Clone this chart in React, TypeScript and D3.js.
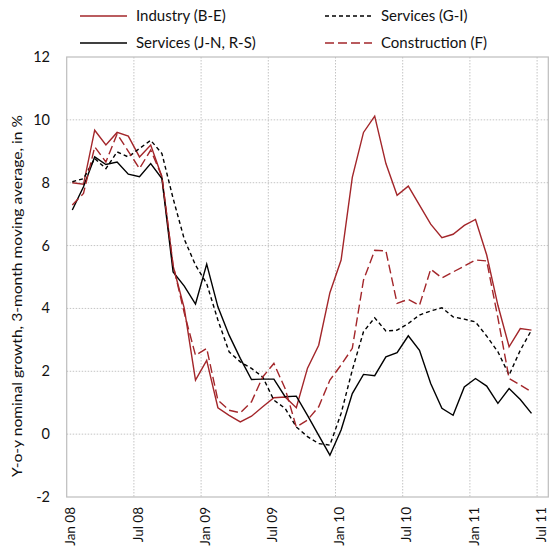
import React from "react";
import * as d3 from "d3";

const monthNames = ["Jan","Feb","Mar","Apr","May","Jun","Jul","Aug","Sep","Oct","Nov","Dec"];
const years = ["08","09","10","11"];
// categories Jan 08 .. Jul 11
const categories: string[] = [];
years.forEach((y) => monthNames.forEach((m) => categories.push(`${m} ${y}`)));
const axisCategories = categories.slice(0, 43);
const tickLabels = ["Jan 08","Jul 08","Jan 09","Jul 09","Jan 10","Jul 10","Jan 11","Jul 11"];
const yTicks = [-2, 0, 2, 4, 6, 8, 10, 12];

const industry = [8.0, 7.95, 9.67, 9.2, 9.6, 9.48, 8.82, 9.2, 8.19, 5.35, 4.0, 1.72, 2.35, 0.84, 0.6, 0.39, 0.57, 0.87, 1.16, 1.18, 0.84, 2.1, 2.83, 4.5, 5.54, 8.17, 9.6, 10.12, 8.61, 7.6, 7.89, 7.29, 6.68, 6.25, 6.36, 6.64, 6.83, 5.7, 4.1, 2.78, 3.36, 3.31];
const servicesGI = [8.03, 8.13, 8.77, 8.45, 8.98, 8.82, 9.09, 9.35, 8.93, 7.5, 6.2, 5.38, 4.79, 3.63, 2.62, 2.3, 2.09, 1.82, 1.08, 0.82, 0.23, -0.08, -0.3, -0.35, 0.66, 2.04, 3.26, 3.7, 3.28, 3.31, 3.52, 3.79, 3.92, 4.02, 3.73, 3.66, 3.57, 3.12, 2.62, 1.88, 2.67, 3.31];
const servicesJN = [7.13, 7.87, 8.82, 8.58, 8.66, 8.27, 8.19, 8.61, 8.13, 5.16, 4.71, 4.14, 5.41, 4.05, 3.15, 2.41, 1.74, 1.75, 1.75, 1.19, 1.21, 0.6, -0.04, -0.67, 0.13, 1.29, 1.9, 1.86, 2.46, 2.59, 3.13, 2.67, 1.61, 0.82, 0.6, 1.5, 1.77, 1.53, 0.98, 1.45, 1.1, 0.66];
const construction = [7.29, 7.66, 9.14, 8.66, 9.55, 9.0, 8.45, 9.04, 8.2, 5.38, 3.85, 2.51, 2.73, 1.08, 0.76, 0.68, 1.03, 1.82, 2.25, 1.45, 0.23, 0.45, 0.87, 1.72, 2.2, 2.73, 4.9, 5.85, 5.83, 4.16, 4.29, 4.1, 5.25, 4.97, 5.16, 5.35, 5.54, 5.51, 3.7, 1.77, 1.56, 1.35];

const RED = "#a3262a";
const FONT = "Lato, 'Open Sans', sans-serif";

const series = [
  { name: "Industry (B-E)", values: industry, color: RED, dash: "none" },
  { name: "Services (G-I)", values: servicesGI, color: "#000", dash: "4,3" },
  { name: "Services (J-N, R-S)", values: servicesJN, color: "#000", dash: "none" },
  { name: "Construction (F)", values: construction, color: RED, dash: "9,4" },
];

export default function App() {
  const left = 66.7, right = 548.3, top = 57, bottom = 497;
  const x = d3.scaleBand<string>().domain(axisCategories).range([left, right]).padding(0);
  const y = d3.scaleLinear().domain([-2, 12]).range([bottom, top]);
  const bw = x.bandwidth();
  const line = d3
    .line<number>()
    .x((_, i) => (x(categories[i]) as number) + bw / 2)
    .y((d) => y(d));

  const vGrid = axisCategories.filter((c) => c.startsWith("Jan") || c.startsWith("Jul")).slice(1);

  const legend = [
    { s: series[0], lx: 80, ty: 16 },
    { s: series[1], lx: 325, ty: 16 },
    { s: series[2], lx: 80, ty: 43 },
    { s: series[3], lx: 325, ty: 43 },
  ];

  return (
    <svg width={549} height={549} style={{ position: "absolute", left: 0, top: 0, background: "#fff" }} fontFamily={FONT}>
      <rect x={0} y={0} width={549} height={549} fill="#fff" />
      {/* grid */}
      {yTicks.slice(1, -1).map((t) => (
        <line key={"h" + t} x1={left} x2={right} y1={y(t)} y2={y(t)} stroke="#c4c4c4" strokeWidth={1} strokeDasharray="1.5,1.5" />
      ))}
      {vGrid.map((c) => (
        <line key={"v" + c} x1={x(c) as number} x2={x(c) as number} y1={top} y2={bottom} stroke="#c4c4c4" strokeWidth={1} strokeDasharray="1.5,1.5" />
      ))}
      <rect x={left} y={top} width={right - left} height={bottom - top} fill="none" stroke="#bdbdbd" strokeWidth={1.2} />
      {/* y ticks */}
      {yTicks.map((t) => (
        <text key={"yt" + t} x={50} y={y(t) + 5} textAnchor="end" fontSize={14.5} fill="#111">
          {t}
        </text>
      ))}
      {/* x tick labels */}
      {tickLabels.map((lab) => {
        const cx = (x(lab) as number) + bw / 2;
        return (
          <text key={"xt" + lab} transform={`translate(${cx + 3},507) rotate(-90)`} textAnchor="end" fontSize={13.5} fill="#111">
            {lab}
          </text>
        );
      })}
      {/* y title */}
      <text
        transform={`translate(22,296) rotate(-90)`}
        textAnchor="middle"
        fontSize={13.5}
        fill="#111"
        textLength={362}
        lengthAdjust="spacingAndGlyphs"
      >
        Y-o-y nominal growth, 3-month moving average, in %
      </text>
      {/* lines */}
      {series.map((s) => (
        <path key={s.name} d={line(s.values) || ""} fill="none" stroke={s.color} strokeWidth={1.4} strokeDasharray={s.dash} strokeLinejoin="miter" />
      ))}
      {/* legend */}
      {legend.map(({ s, lx, ty }) => (
        <g key={"lg" + s.name}>
          <line x1={lx} x2={lx + 47} y1={ty} y2={ty} stroke={s.color} strokeWidth={1.4} strokeDasharray={s.dash} />
          <text x={lx + 56} y={ty + 5} fontSize={15} fill="#111">
            {s.name}
          </text>
        </g>
      ))}
    </svg>
  );
}
